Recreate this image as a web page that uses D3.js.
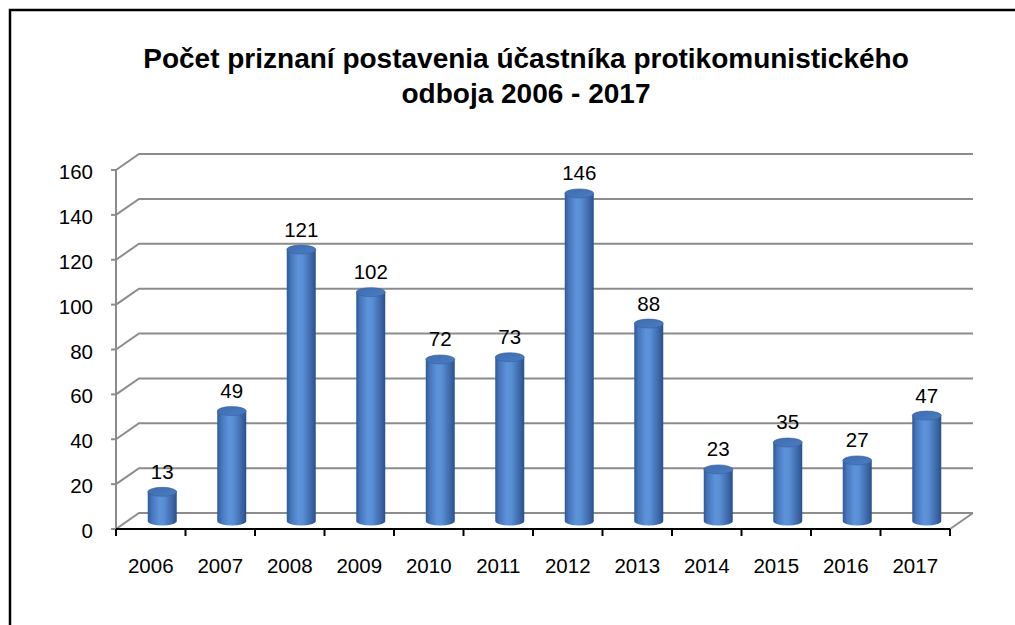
<!DOCTYPE html>
<html><head><meta charset="utf-8">
<script src="https://cdn.jsdelivr.net/npm/d3@7"></script>
<style>body{margin:0;background:#fff}svg{display:block}</style>
</head><body>
<svg id="c" width="1015" height="625"></svg>
<script>
const years = ["2006","2007","2008","2009","2010","2011","2012","2013","2014","2015","2016","2017"];
const values = [13,49,121,102,72,73,146,88,23,35,27,47];
const yTicks = [0,20,40,60,80,100,120,140,160];
const titleLines = ["Počet priznaní postavenia účastníka protikomunistického","odboja 2006 - 2017"];

const svg = d3.select("#c");
const font = "'Liberation Sans', Arial, sans-serif";
const DX = 23, DY = -16;
const x = d3.scaleBand().domain(years).range([116, 950]);
const y = d3.scaleLinear().domain([0,160]).range([529, 170]);

// border
svg.append("rect").attr("x",10).attr("y",10).attr("width",1100).attr("height",700)
  .attr("fill","none").attr("stroke","#000").attr("stroke-width",2.5);

// title
svg.append("g").selectAll("text").data(titleLines).join("text")
  .attr("x",526).attr("y",(d,i)=>68+i*35).attr("text-anchor","middle")
  .attr("font-family",font).attr("font-weight","bold").attr("font-size",28).text(d=>d);

const defs = svg.append("defs");
const g1 = defs.append("linearGradient").attr("id","cyl").attr("x1","0").attr("x2","1").attr("y1","0").attr("y2","0");
[["0%","#2f5a99"],["15%","#4777bd"],["40%","#5d93da"],["55%","#5a8fd5"],["85%","#3b67a8"],["100%","#2b5089"]]
  .forEach(s=>g1.append("stop").attr("offset",s[0]).attr("stop-color",s[1]));
const g2 = defs.append("linearGradient").attr("id","topg").attr("x1","0").attr("x2","1").attr("y1","0").attr("y2","1");
[["0%","#3e6cb0"],["100%","#4b7dc2"]].forEach(s=>g2.append("stop").attr("offset",s[0]).attr("stop-color",s[1]));

// gridlines (back wall + left side)
const grid = svg.append("g").attr("stroke","#8c8c8c").attr("stroke-width",2).attr("fill","none");
yTicks.forEach(t=>{
  const yy = y(t);
  grid.append("path").attr("d",`M${x.range()[0]},${yy}L${x.range()[0]+DX},${yy+DY}H${x.range()[1]+DX}`);
});
// floor right edge
grid.append("line").attr("x1",x.range()[1]).attr("y1",y(0)).attr("x2",x.range()[1]+DX).attr("y2",y(0)+DY);
// vertical axis
grid.append("line").attr("x1",116).attr("x2",116).attr("y1",y(160)).attr("y2",y(0));
grid.selectAll(".tk").data(yTicks).join("line").attr("x1",111).attr("x2",116).attr("y1",d=>y(d)).attr("y2",d=>y(d));

// y labels
svg.append("g").selectAll("text").data(yTicks).join("text")
  .attr("x",93).attr("y",d=>y(d)+9).attr("text-anchor","end")
  .attr("font-family",font).attr("font-size",20.5).text(d=>d);

// x axis front line
const ax = svg.append("g").attr("stroke","#000").attr("stroke-width",2);
ax.append("line").attr("x1",x.range()[0]).attr("x2",x.range()[1]).attr("y1",y(0)).attr("y2",y(0));
const edges = years.map(d=>x(d)).concat([x.range()[1]]);
ax.selectAll(".t").data(edges).join("line").attr("x1",d=>d).attr("x2",d=>d).attr("y1",y(0)).attr("y2",y(0)+7);

svg.append("g").selectAll("text").data(years).join("text")
  .attr("x",d=>x(d)+x.bandwidth()/2).attr("y",573).attr("text-anchor","middle")
  .attr("font-family",font).attr("font-size",20.5).text(d=>d);

// cylinders
const bw = 29, ry = 4.5;
const bars = svg.append("g");
years.forEach((yr,i)=>{
  const cx = x(yr)+x.bandwidth()/2 + DX/2;
  const yb = y(0) + DY/2, yt = y(values[i]) + DY/2;
  const l = cx-bw/2, r = cx+bw/2;
  bars.append("path")
    .attr("d",`M${l},${yt}L${l},${yb}A${bw/2},${ry} 0 0 0 ${r},${yb}L${r},${yt}Z`)
    .attr("fill","url(#cyl)");
  bars.append("ellipse").attr("cx",cx).attr("cy",yt).attr("rx",bw/2).attr("ry",ry)
    .attr("fill","url(#topg)").attr("stroke","#365f9e").attr("stroke-width",0.6);
  bars.append("text").attr("x",cx).attr("y",yt-13).attr("text-anchor","middle")
    .attr("font-family",font).attr("font-size",20.5).text(values[i]);
});
</script>
</body></html>
